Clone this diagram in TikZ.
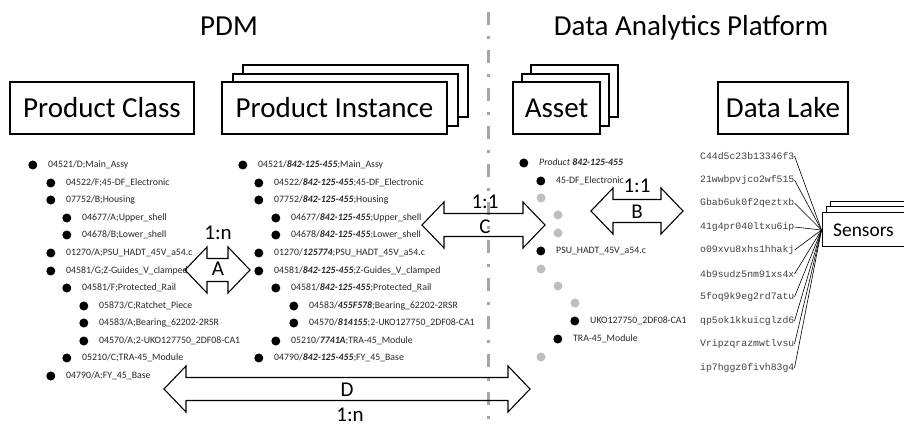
\documentclass[tikz,border=0pt]{standalone}
\usepackage{fontspec}
\setmainfont{Carlito}
\setmonofont{Liberation Mono}
\usetikzlibrary{positioning}

% outlined double block arrow: left tip x, right tip x, middle y
\newcommand{\dblarrow}[3]{%
  \draw[blockarrow] (#1,#3) -- (#1+22,#3-23) -- (#1+22,#3-11.5) -- (#2-22,#3-11.5)
    -- (#2-22,#3-23) -- (#2,#3) -- (#2-22,#3+23) -- (#2-22,#3+11.5)
    -- (#1+22,#3+11.5) -- (#1+22,#3+23) -- cycle;}

\begin{document}
\begin{tikzpicture}[
    x=1pt, y=-1pt,
    box/.style={
        draw=black,
        line width=1.1pt,
        fill=white,
        minimum height=52pt,
        inner sep=0pt,
        font=\fontsize{29}{30}\selectfont
    },
    title/.style={anchor=base, font=\fontsize{29}{30}\selectfont},
    bullet/.style={circle, fill=black, inner sep=0pt, minimum size=9pt},
    ghost/.style={bullet, fill=black!25},
    item/.style={
        anchor=west, inner sep=0pt,
        text height=7pt, text depth=2pt,
        text=black!85,
        font=\fontsize{9.8}{10}\selectfont,
        label={[bullet, label distance=10.5pt]left:{}}
    },
    raw/.style={anchor=west, inner sep=0pt, text=black!75,
        font=\ttfamily\fontsize{9.8}{10}\selectfont},
    relation/.style={font=\fontsize{21}{22}\selectfont, inner sep=0pt},
    blockarrow/.style={draw=black, line width=1.1pt, line join=miter},
    wire/.style={draw=black, line width=0.6pt}
]
\clip (0,0) rectangle (904,427);

% Separator
\draw[line width=3pt, black!35, dash pattern=on 13pt off 11pt on 3pt off 11pt]
    (488,12) -- (488,427);

% Titles
\node[title] (pdm) at (229,36) {PDM};
\node[title] (dap) at (691,36) {Data Analytics Platform};

% Boxes
\node[box, minimum width=184pt] (pclass) at (102,108) {Product Class};
\node[box, minimum width=225pt] (pinst3) at (355.5,91) {};
\node[box, minimum width=225pt] (pinst2) at (345.5,100) {};
\node[box, minimum width=225pt] (pinst) at (334.5,108) {Product Instance};
\node[box, minimum width=87pt] (asset3) at (574.5,91) {};
\node[box, minimum width=87pt] (asset2) at (565.5,100) {};
\node[box, minimum width=87pt] (asset) at (556.5,108) {Asset};
\node[box, minimum width=130pt] (lake) at (783,108) {Data Lake};

% Product class structure
\node[item] (c1)  at (48,165)  {04521/D;Main\_Assy};
\node[item] (c2)  at (66,183)  {04522/F;45-DF\_Electronic};
\node[item] (c3)  at (66,200)  {07752/B;Housing};
\node[item] (c4)  at (82,218)  {04677/A;Upper\_shell};
\node[item] (c5)  at (82,235)  {04678/B;Lower\_shell};
\node[item] (c6)  at (66,253)  {01270/A;PSU\_HADT\_45V\_a54.c};
\node[item] (c7)  at (66,271)  {04581/G;Z-Guides\_V\_clamped};
\node[item] (c8)  at (82,288)  {04581/F;Protected\_Rail};
\node[item] (c9)  at (99,306)  {05873/C;Ratchet\_Piece};
\node[item] (c10) at (99,323)  {04583/A;Bearing\_62202-2RSR};
\node[item] (c11) at (99,341)  {04570/A;2-UKO127750\_2DF08-CA1};
\node[item] (c12) at (82,358)  {05210/C;TRA-45\_Module};
\node[item] (c13) at (66,376)  {04790/A;FY\_45\_Base};

% Product instance structure
\node[item] (i1)  at (258,165) {04521/\textbf{\textit{842-125-455}};Main\_Assy};
\node[item] (i2)  at (274,183) {04522/\textbf{\textit{842-125-455}};45-DF\_Electronic};
\node[item] (i3)  at (274,200) {07752/\textbf{\textit{842-125-455}};Housing};
\node[item] (i4)  at (291,218) {04677/\textbf{\textit{842-125-455}};Upper\_shell};
\node[item] (i5)  at (291,235) {04678/\textbf{\textit{842-125-455}};Lower\_shell};
\node[item] (i6)  at (274,253) {01270/\textbf{\textit{125774}};PSU\_HADT\_45V\_a54.c};
\node[item] (i7)  at (274,271) {04581/\textbf{\textit{842-125-455}};Z-Guides\_V\_clamped};
\node[item] (i8)  at (291,288) {04581/\textbf{\textit{842-125-455}};Protected\_Rail};
\node[item] (i9)  at (309,306) {04583/\textbf{\textit{455F578}};Bearing\_62202-2RSR};
\node[item] (i10) at (309,323) {04570/\textbf{\textit{814155}};2-UKO127750\_2DF08-CA1};
\node[item] (i11) at (291,341) {05210/\textbf{\textit{7741A}};TRA-45\_Module};
\node[item] (i12) at (274,358) {04790/\textbf{\textit{842-125-455}};FY\_45\_Base};

% Asset structure
\node[item] (a1)  at (539,163) {\textit{Product} \textbf{\textit{842-125-455}}};
\node[item] (a2)  at (556,181) {45-DF\_Electronic};
\node[ghost] (a3) at (541,198) {};
\node[ghost] (a4) at (558,215) {};
\node[ghost] (a5) at (558,233) {};
\node[item] (a6)  at (556,251) {PSU\_HADT\_45V\_a54.c};
\node[ghost] (a7) at (541,269) {};
\node[ghost] (a8) at (558,286) {};
\node[ghost] (a9) at (575,303) {};
\node[item] (a10) at (590,321) {UKO127750\_2DF08-CA1};
\node[item] (a11) at (573,339) {TRA-45\_Module};
\node[ghost] (a12) at (541,357) {};

% Sensors
\node[box, line width=1pt, minimum width=83pt, minimum height=34pt] (sens3) at (871.5,219) {};
\node[box, line width=1pt, minimum width=83pt, minimum height=34pt] (sens2) at (867.5,224) {};
\node[box, line width=1pt, minimum width=83pt, minimum height=34pt,
      font=\fontsize{19.4}{20}\selectfont] (sens) at (863.5,230) {Sensors};

% Data lake content
\node[raw] (d1)  at (700,156) {C44d5c23b13346f3};
\node[raw] (d2)  at (700,180) {21wwbpvjco2wf515};
\node[raw] (d3)  at (700,203) {Gbab6uk0f2qeztxb};
\node[raw] (d4)  at (700,227) {41g4pr040ltxu6ip};
\node[raw] (d5)  at (700,250) {o09xvu8xhs1hhakj};
\node[raw] (d6)  at (700,274) {4b9sudz5nm91xs4x};
\node[raw] (d7)  at (700,297) {5foq9k9eg2rd7atu};
\node[raw] (d8)  at (700,321) {qp5ok1kkuicglzd6};
\node[raw] (d9)  at (700,344) {Vripzqrazmwtlvsu};
\node[raw] (d10) at (700,368) {ip7hggz0fivh83g4};

\foreach \k in {1,...,10}
    \draw[wire] (d\k.east) -- (sens.west);

% Relations
\dblarrow{185}{250}{270}
\dblarrow{422}{545}{225}
\dblarrow{591}{683}{211}
\dblarrow{164}{530}{389}

\node[relation] (relA) at (218,233) {1:n};
\node[relation] (labA) at (218,269) {A};
\node[relation] (relC) at (485,202) {1:1};
\node[relation] (labC) at (485,227) {C};
\node[relation] (relB) at (637,186) {1:1};
\node[relation] (labB) at (637,212) {B};
\node[relation] (labD) at (347,390) {D};
\node[relation] (relD) at (350,415) {1:n};

\end{tikzpicture}
\end{document}
